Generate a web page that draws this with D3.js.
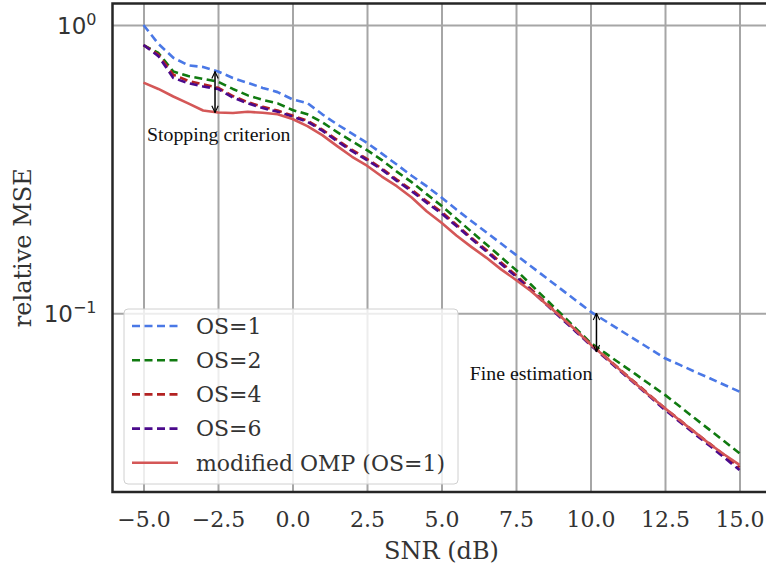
<!DOCTYPE html>
<html>
<head>
<meta charset="utf-8">
<script src="https://cdn.jsdelivr.net/npm/d3@7"></script>
<style>
  html, body { margin: 0; padding: 0; background: #fff; }
  svg { display: block; }
</style>
</head>
<body>
<svg id="chart" width="766" height="567"></svg>
<script>
// ---------- data ----------
const snr = [-5, -4.5, -4, -3.5, -3, -2.5, -2, -1.5, -1, -0.5, 0, 0.5, 1, 1.5, 2, 2.5, 3, 3.5, 4, 4.5, 5,
             5.5, 6, 6.5, 7, 7.5, 8, 8.5, 9, 9.5, 10, 10.5, 11, 11.5, 12, 12.5, 13, 13.5, 14, 14.5, 15];

const os1 = [1.0, 0.86, 0.77, 0.725, 0.715, 0.69, 0.655, 0.63, 0.605, 0.585, 0.552, 0.536, 0.49, 0.452, 0.42, 0.39, 0.358, 0.328, 0.30, 0.276, 0.252,
             0.229, 0.209, 0.191, 0.1745, 0.1594, 0.1456, 0.133, 0.1215, 0.111, 0.1014, 0.094, 0.0873, 0.081, 0.0752, 0.0698, 0.0662, 0.0627, 0.0595, 0.0564, 0.0535];

const os2 = [0.852, 0.80, 0.69, 0.665, 0.65, 0.636, 0.60, 0.57, 0.55, 0.535, 0.507, 0.49, 0.46, 0.425, 0.395, 0.368, 0.34, 0.31, 0.285, 0.259, 0.236,
             0.213, 0.192, 0.1735, 0.1566, 0.1413, 0.1258, 0.112, 0.0998, 0.0888, 0.079, 0.0727, 0.0669, 0.0616, 0.0566, 0.0521, 0.0475, 0.0432, 0.0394, 0.0359, 0.0327];

const os4 = [0.852, 0.79, 0.672, 0.64, 0.622, 0.606, 0.567, 0.54, 0.52, 0.505, 0.485, 0.466, 0.434, 0.399, 0.369, 0.343, 0.318, 0.291, 0.268, 0.245, 0.225,
             0.203, 0.183, 0.166, 0.150, 0.1355, 0.1215, 0.1088, 0.0975, 0.0874, 0.0783, 0.0707, 0.0637, 0.0575, 0.0519, 0.0468, 0.0426, 0.0387, 0.0353, 0.0321, 0.0292];

const os6 = [0.852, 0.78, 0.655, 0.628, 0.612, 0.60, 0.56, 0.535, 0.515, 0.50, 0.481, 0.462, 0.43, 0.395, 0.365, 0.34, 0.315, 0.288, 0.265, 0.242, 0.222,
             0.2007, 0.1814, 0.164, 0.1482, 0.134, 0.1201, 0.1076, 0.0964, 0.0865, 0.0775, 0.0699, 0.063, 0.0568, 0.0513, 0.0462, 0.042, 0.0381, 0.0347, 0.0315, 0.0286];

const modOmp = [0.631, 0.60, 0.565, 0.535, 0.505, 0.497, 0.495, 0.50, 0.496, 0.49, 0.472, 0.446, 0.415, 0.38, 0.349, 0.325, 0.298, 0.276, 0.252, 0.226, 0.206,
                0.186, 0.17, 0.156, 0.142, 0.1305, 0.1195, 0.108, 0.0975, 0.0875, 0.078, 0.0705, 0.0635, 0.0572, 0.0516, 0.0468, 0.0425, 0.0387, 0.0352, 0.0323, 0.0298];

const seriesNames = ["OS=1", "OS=2", "OS=4", "OS=6", "modified OMP (OS=1)"];
const seriesValues = [os1, os2, os4, os6, modOmp];
const seriesColors = ["#4a78e6", "#107a10", "#b32222", "#4b0a8c", "#d45757"];
const seriesDashed = [true, true, true, true, false];

const xTicks = [-5, -2.5, 0, 2.5, 5, 7.5, 10, 12.5, 15];
const yTicks = [1, 0.1];
const yTickExp = ["0", "\u22121"];

// annotations
const arrowStop = { x: -2.6, y1: 0.689, y2: 0.497, label: "Stopping criterion", lx: -4.88, ly: 0.419 };
const arrowFine = { x: 10.2, y1: 0.1, y2: 0.0735, label: "Fine estimation", lx: 5.95, ly: 0.0621 };

// ---------- layout ----------
const svg = d3.select("#chart");
const plot = { left: 112.5, top: 3.5, right: 769.5, bottom: 492 };

const x = d3.scaleLinear().domain([-6, 16]).range([113.7, 769.3]);
const y = d3.scaleLog().domain([Math.pow(10, -1.62), Math.pow(10, 0.0746)]).range([492, 3.5]);

const textColor = "#333";
const gridColor = "#a6a6a6";
const serif = "'DejaVu Serif', serif";

// grid (vertical) + x tick labels
const gx = svg.append("g")
  .attr("transform", `translate(0,${plot.bottom})`)
  .call(d3.axisBottom(x).tickValues(xTicks).tickSize(-(plot.bottom - plot.top)).tickPadding(19)
        .tickFormat(d => d3.format(".1f")(d).replace("-", "\u2212")));
gx.select(".domain").remove();
gx.selectAll(".tick line").attr("stroke", gridColor).attr("stroke-width", 2);
gx.selectAll(".tick text")
  .attr("fill", textColor)
  .style("font-family", serif)
  .style("font-size", "22px");

// grid (horizontal) + y tick labels
const gy = svg.append("g")
  .attr("transform", `translate(${plot.left},0)`)
  .call(d3.axisLeft(y).tickValues(yTicks).tickSize(-(plot.right - plot.left)).tickPadding(16).tickFormat(() => ""));
gy.select(".domain").remove();
gy.selectAll(".tick line").attr("stroke", gridColor).attr("stroke-width", 2);
gy.selectAll(".tick text").each(function(d, i) {
  const t = d3.select(this);
  t.attr("fill", textColor)
   .style("font-family", "'DejaVu Sans', sans-serif")
   .style("font-size", "23px")
   .attr("dy", "0.35em");
  t.append("tspan").text("10");
  t.append("tspan").attr("dy", "-0.55em").style("font-size", "16px").text(yTickExp[i]);
});

// lines
const line = d3.line().x((d, i) => x(snr[i])).y(d => y(d));
const lineG = svg.append("g");
seriesValues.forEach((vals, k) => {
  lineG.append("path")
    .datum(vals)
    .attr("d", line)
    .attr("fill", "none")
    .attr("stroke", seriesColors[k])
    .attr("stroke-width", 2.6)
    .attr("stroke-dasharray", seriesDashed[k] ? "8,4.5" : null)
    .attr("stroke-linejoin", "round");
});

// arrows
const defs = svg.append("defs");
["start", "end"].forEach(kind => {
  defs.append("marker")
    .attr("id", "arr-" + kind)
    .attr("viewBox", "0 0 10 10")
    .attr("refX", kind === "end" ? 9.5 : 0.5)
    .attr("refY", 5)
    .attr("markerWidth", 8)
    .attr("markerHeight", 8)
    .attr("markerUnits", "userSpaceOnUse")
    .attr("orient", "auto")
    .append("path")
    .attr("d", kind === "end" ? "M1,1 L9.5,5 L1,9" : "M9,1 L0.5,5 L9,9")
    .attr("fill", "none")
    .attr("stroke", "#000")
    .attr("stroke-width", 1.4);
});
[arrowStop, arrowFine].forEach(a => {
  svg.append("line")
    .attr("x1", x(a.x)).attr("x2", x(a.x))
    .attr("y1", y(a.y1)).attr("y2", y(a.y2))
    .attr("stroke", "#000").attr("stroke-width", 1.5)
    .attr("marker-start", "url(#arr-start)")
    .attr("marker-end", "url(#arr-end)");
  svg.append("text")
    .attr("x", x(a.lx)).attr("y", y(a.ly))
    .attr("dy", "0.35em")
    .attr("fill", "#111")
    .style("font-family", "'Liberation Serif', serif")
    .style("font-size", "19.8px")
    .text(a.label);
});

// legend
const leg = svg.append("g");
leg.append("rect")
  .attr("x", 124).attr("y", 309).attr("width", 334).attr("height", 175)
  .attr("rx", 4).attr("ry", 4)
  .attr("fill", "#fff").attr("fill-opacity", 0.8)
  .attr("stroke", "#d0d0d0").attr("stroke-width", 1);
seriesNames.forEach((name, k) => {
  const cy = 326 + k * 34.2;
  leg.append("line")
    .attr("x1", 132).attr("x2", 178).attr("y1", cy).attr("y2", cy)
    .attr("stroke", seriesColors[k]).attr("stroke-width", 2.6)
    .attr("stroke-dasharray", seriesDashed[k] ? "8,4.5" : null);
  leg.append("text")
    .attr("x", 196).attr("y", cy).attr("dy", "0.35em")
    .attr("fill", textColor)
    .style("font-family", serif)
    .style("font-size", "22px")
    .text(name);
});

// frame
svg.append("rect")
  .attr("x", plot.left).attr("y", plot.top)
  .attr("width", plot.right - plot.left).attr("height", plot.bottom - plot.top)
  .attr("fill", "none").attr("stroke", "#262626").attr("stroke-width", 2.5);

// axis labels
svg.append("text")
  .attr("x", x(5)).attr("y", 559)
  .attr("text-anchor", "middle")
  .attr("fill", textColor)
  .style("font-family", serif)
  .style("font-size", "24px")
  .text("SNR (dB)");
svg.append("text")
  .attr("transform", `translate(31,${(plot.top + plot.bottom) / 2}) rotate(-90)`)
  .attr("text-anchor", "middle")
  .attr("fill", textColor)
  .style("font-family", serif)
  .style("font-size", "24px")
  .text("relative MSE");
</script>
</body>
</html>
